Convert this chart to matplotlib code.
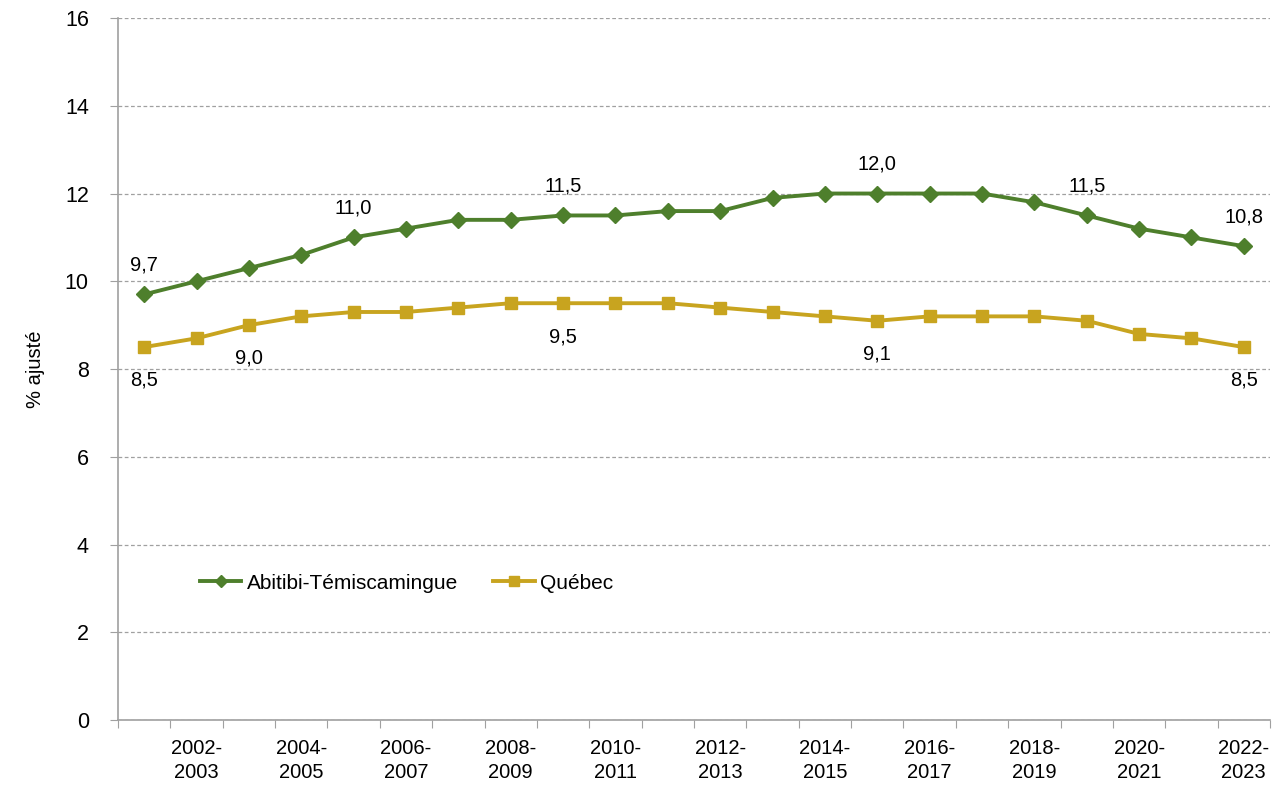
import numpy as np
import matplotlib
matplotlib.use("Agg")
import matplotlib.pyplot as plt

# data: rolling periods, adjusted %
periods = ["2001-\n2002", "2002-\n2003", "2003-\n2004", "2004-\n2005", "2005-\n2006",
           "2006-\n2007", "2007-\n2008", "2008-\n2009", "2009-\n2010", "2010-\n2011",
           "2011-\n2012", "2012-\n2013", "2013-\n2014", "2014-\n2015", "2015-\n2016",
           "2016-\n2017", "2017-\n2018", "2018-\n2019", "2019-\n2020", "2020-\n2021",
           "2021-\n2022", "2022-\n2023"]
abitibi = [9.7, 10.0, 10.3, 10.6, 11.0, 11.2, 11.4, 11.4, 11.5, 11.5, 11.6,
           11.6, 11.9, 12.0, 12.0, 12.0, 12.0, 11.8, 11.5, 11.2, 11.0, 10.8]
quebec = [8.5, 8.7, 9.0, 9.2, 9.3, 9.3, 9.4, 9.5, 9.5, 9.5, 9.5,
          9.4, 9.3, 9.2, 9.1, 9.2, 9.2, 9.2, 9.1, 8.8, 8.7, 8.5]
abitibi_labelled = [0, 4, 8, 14, 18, 21]
quebec_labelled = [0, 2, 8, 14, 21]

green = "#4E7F2C"
gold = "#C8A41F"
grey = "#A0A0A0"
fs = 14.5

plt.rcParams['font.family'] = ['Liberation Sans', 'DejaVu Sans']

fig = plt.figure(figsize=(12.81, 7.87), dpi=100)
ax = fig.add_axes([0.0921, 0.0851, 0.8993, 0.892])

x = np.arange(len(periods))
ax.plot(x, abitibi, color=green, lw=2.8, marker="D", ms=8, mec=green, mfc=green,
        label="Abitibi-Témiscamingue", zorder=3)
ax.plot(x, quebec, color=gold, lw=2.8, marker="s", ms=9, mec=gold, mfc=gold,
        label="Québec", zorder=3)

# data labels
for i in abitibi_labelled:
    ax.annotate(f"{abitibi[i]:.1f}".replace(".", ","), (x[i], abitibi[i]),
                xytext=(0, 21), textcoords="offset points", ha="center",
                va="center", fontsize=fs)
for i in quebec_labelled:
    ax.annotate(f"{quebec[i]:.1f}".replace(".", ","), (x[i], quebec[i]),
                xytext=(0, -24), textcoords="offset points", ha="center",
                va="center", fontsize=fs)

ax.set_xlim(-0.5, len(periods) - 0.5)
ax.set_ylim(0, 16)
ax.set_yticks(range(0, 17, 2))
ax.yaxis.grid(True, ls=(0, (3, 2)), color=grey, lw=0.9)
ax.set_axisbelow(True)

# category ticks between periods, labels every other period
ax.set_xticks(np.arange(-0.5, len(periods), 1.0))
ax.set_xticklabels([])
ax.set_xticks(x[1::2], minor=True)
ax.set_xticklabels(periods[1::2], minor=True, fontsize=fs, linespacing=1.3)
ax.tick_params(axis="x", which="minor", length=0, pad=14)
ax.tick_params(axis="x", which="major", length=6, color=grey, direction="out")
ax.tick_params(axis="y", length=6, color=grey, labelsize=fs + 1, pad=15)

for s in ["top", "right"]:
    ax.spines[s].set_visible(False)
for s in ["left", "bottom"]:
    ax.spines[s].set_color(grey)
    ax.spines[s].set_linewidth(1.2)

ax.set_ylabel("% ajusté", fontsize=fs, labelpad=14)

ax.legend(loc="center left", bbox_to_anchor=(0.071, 0.195), ncol=2, frameon=False,
          fontsize=fs + 0.5, handlelength=2.0, handletextpad=0.25, columnspacing=1.7,
          borderpad=0, borderaxespad=0, markerscale=0.75)

fig.savefig("out.png", dpi=100)
